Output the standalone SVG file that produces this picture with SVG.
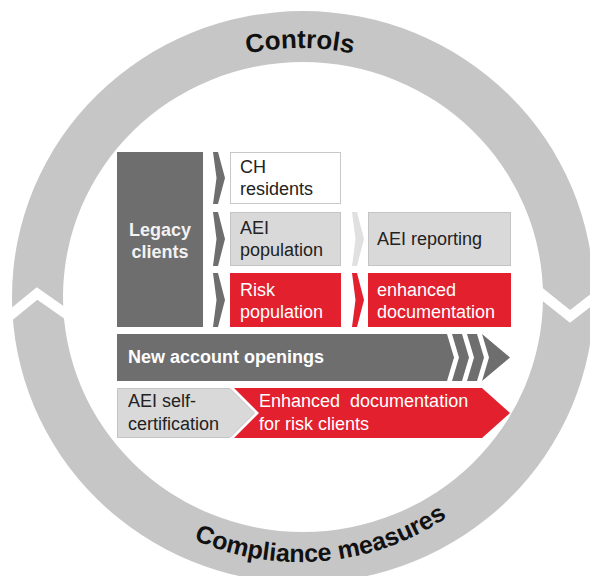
<svg xmlns="http://www.w3.org/2000/svg" width="590" height="576" viewBox="0 0 590 576">
  <style>
    text { font-family: "Liberation Sans", Arial, sans-serif; font-size: 18px; }
    .ring { fill: #c6c6c6; fill-rule: evenodd; }
    .notch { fill: none; stroke: #ffffff; stroke-width: 10; stroke-linejoin: miter; }
    .arc { font-size: 26px; font-weight: bold; fill: #111111; }
    .dark { fill: #6e6e6e; }
    .white { fill: #ffffff; stroke: #c8c8c8; stroke-width: 1; }
    .light { fill: #d9d9d9; stroke: #c4c4c4; stroke-width: 1; }
    .red { fill: #e2202e; }
    .chev-dark { fill: #6e6e6e; }
    .chev-light { fill: #e0e0e0; }
    .chev-red { fill: #e2202e; }
    .tw { fill: #ffffff; }
    .tb { fill: #222222; }
    .bold { font-weight: bold; }
  </style>
  <defs>
    <path id="topArc" d="M 51 297 A 249 249 0 0 1 549 297"/>
    <path id="bottomArc" d="M 35 297 A 265 265 0 0 0 565 297"/>
  </defs>

  <g id="cycle">
    <path class="ring" d="M 12 297 A 291 286 0 1 1 594 297 A 291 286 0 1 1 12 297 Z M 63 297 A 240 235 0 1 0 543 297 A 240 235 0 1 0 63 297 Z"/>
    <polyline class="notch" points="2,322 37,293.5 72,318"/>
    <polyline class="notch" points="532,286 570,316.5 604,290"/>
    <text class="arc" text-anchor="middle"><textPath href="#topArc" startOffset="50%">Controls</textPath></text>
    <text class="arc" text-anchor="middle" style="font-size:25px"><textPath href="#bottomArc" startOffset="52.8%">Compliance measures</textPath></text>
  </g>

  <g id="legacy-clients">
    <rect class="dark" x="117" y="152" width="86" height="175"/>
    <text class="tw bold" x="160" y="236" text-anchor="middle" style="fill:#f2f2f2">Legacy</text>
    <text class="tw bold" x="160" y="258" text-anchor="middle" style="fill:#f2f2f2">clients</text>
  </g>

  <g id="ch-residents">
    <rect class="white" x="230.5" y="152.5" width="110" height="51"/>
    <text class="tb" x="240" y="173">CH</text>
    <text class="tb" x="240" y="195">residents</text>
  </g>

  <g id="aei-population">
    <rect class="light" x="230.5" y="212.5" width="110" height="53"/>
    <text class="tb" x="240" y="234">AEI</text>
    <text class="tb" x="240" y="256">population</text>
  </g>

  <g id="risk-population">
    <rect class="red" x="230" y="273" width="111" height="54"/>
    <text class="tw" x="240" y="296">Risk</text>
    <text class="tw" x="240" y="318">population</text>
  </g>

  <g id="aei-reporting">
    <rect class="light" x="368.5" y="212.5" width="142" height="53"/>
    <text class="tb" x="377" y="245">AEI reporting</text>
  </g>

  <g id="enhanced-documentation">
    <rect class="red" x="368" y="273" width="143" height="54"/>
    <text class="tw" x="377" y="296">enhanced</text>
    <text class="tw" x="377" y="318">documentation</text>
  </g>

  <g id="new-account-openings">
    <polygon class="dark" points="117,334 447,334 454,357.5 447,381 117,381"/>
    <polygon class="dark" points="452,334 462,334 469,357.5 462,381 452,381 459,357.5"/>
    <polygon class="dark" points="467,334 477,334 484,357.5 477,381 467,381 474,357.5"/>
    <polygon class="dark" points="482,334 510,357.5 482,381 489,357.5"/>
    <text class="tw bold" x="128" y="363">New account openings</text>
  </g>

  <g id="aei-self-certification">
    <polygon class="light" points="117.5,388.5 230,388.5 254.5,413 230,437.5 117.5,437.5"/>
    <text class="tb" x="128" y="407">AEI self-</text>
    <text class="tb" x="128" y="430">certification</text>
  </g>

  <g id="enhanced-documentation-risk-clients">
    <polygon class="red" points="234,388 482,388 510,413 482,438 234,438 259,413"/>
    <text class="tw" x="259" y="407" xml:space="preserve">Enhanced  documentation</text>
    <text class="tw" x="259" y="430">for risk clients</text>
  </g>

  <g id="connectors">
    <polygon class="chev-dark" points="213,152 218,152 225,178 218,204 213,204 216.5,178"/>
    <polygon class="chev-dark" points="213,212 218,212 225,239 218,266 213,266 216.5,239"/>
    <polygon class="chev-dark" points="213,273 218,273 225,300 218,327 213,327 216.5,300"/>
    <polygon class="chev-light" points="352,212 357,212 364,239 357,266 352,266 355.5,239"/>
    <polygon class="chev-red" points="352,273 357,273 364,300 357,327 352,327 355.5,300"/>
  </g>
</svg>
